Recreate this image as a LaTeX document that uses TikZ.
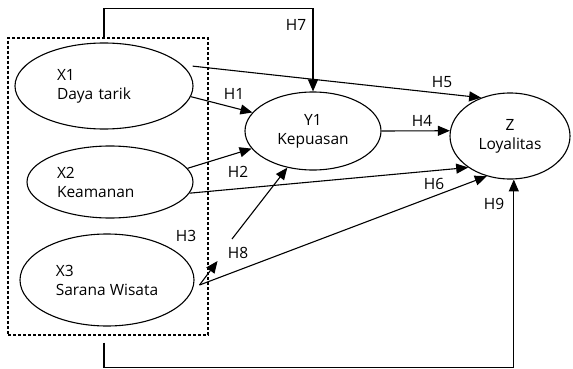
\documentclass[tikz,border=0pt]{standalone}
\usepackage{fontspec}
\setmainfont{Open Sans}
\usetikzlibrary{arrows.meta,calc,shapes.geometric}
\tikzset{
  var/.style={draw,ellipse,line width=1.1pt,inner sep=0pt,font=\fontsize{15.5}{19}\selectfont},
  hyp/.style={inner sep=0pt,font=\fontsize{15.5}{18}\selectfont},
  arr/.style={line width=1.1pt,-{Triangle[length=12pt,width=10pt]}},
}
\begin{document}
\begin{tikzpicture}[x=1pt,y=-1pt]
		\useasboundingbox (0,0) rectangle (573,369);
		\node[draw,line width=1.1pt,dash pattern=on 3pt off 2pt,minimum width=200pt,minimum height=297pt] (box) at (108,186.5) {};
%		
		\node[var,minimum width=178pt,minimum height=86pt,text width=94pt,align=left] (X1) at (104,86) {X1\\Daya tarik};
		\node[var,minimum width=166pt,minimum height=72pt,text width=106pt,align=left] (X2) at (110,182) {X2\\Keamanan};
		\node[var,minimum width=174pt,minimum height=92pt,align=left] (X3) at (107,280) {X3\\Sarana Wisata};
		\node[var,minimum width=136pt,minimum height=78pt,align=center] (Y1) at (313,131) {Y1\\Kepuasan};
		\node[var,minimum width=120pt,minimum height=86pt,align=center] (Z) at (510,136) {Z\\Loyalitas};
%		
		\node[hyp] (lH1) at (234,94) {H1};
		\node[hyp] (lH2) at (238,172) {H2};
		\node[hyp] (lH3) at (186,236) {H3};
		\node[hyp] (lH4) at (422,121) {H4};
		\node[hyp] (lH5) at (442,82) {H5};
		\node[hyp] (lH6) at (434,184) {H6};
		\node[hyp] (lH7) at (296,25) {H7};
		\node[hyp] (lH8) at (238,253) {H8};
		\node[hyp] (lH9) at (494,204) {H9};
%		
		\coordinate (v) at ($(X3.east)+(5,5)$);
		\coordinate (h3) at ($(v)+(18,-24)$);
		\coordinate (h8) at (232,239);
		\draw[arr] ([xshift=9pt]X1.14) -- (Z.127);
		\draw[arr] (X1.353) -- (Y1.163);
		\draw[arr] (X2.10) -- (Y1.196);
		\draw[arr] (X2.352) -- (Z.217);
		\draw[arr] (Y1.east) -- (Z.175);
		\draw[arr] (v) -- (h3);
		\draw[arr] (v) -- (Z.240);
		\draw[arr] (h8) -- (Y1.235);
		\draw[arr] ([xshift=-4pt]box.north) -- ++(0,-29) -| (Y1.north);
		\draw[arr] ($(box.south)+(-4,7)$) -- ++(0,25) -| (Z.275);
	\end{tikzpicture}
\end{document}
